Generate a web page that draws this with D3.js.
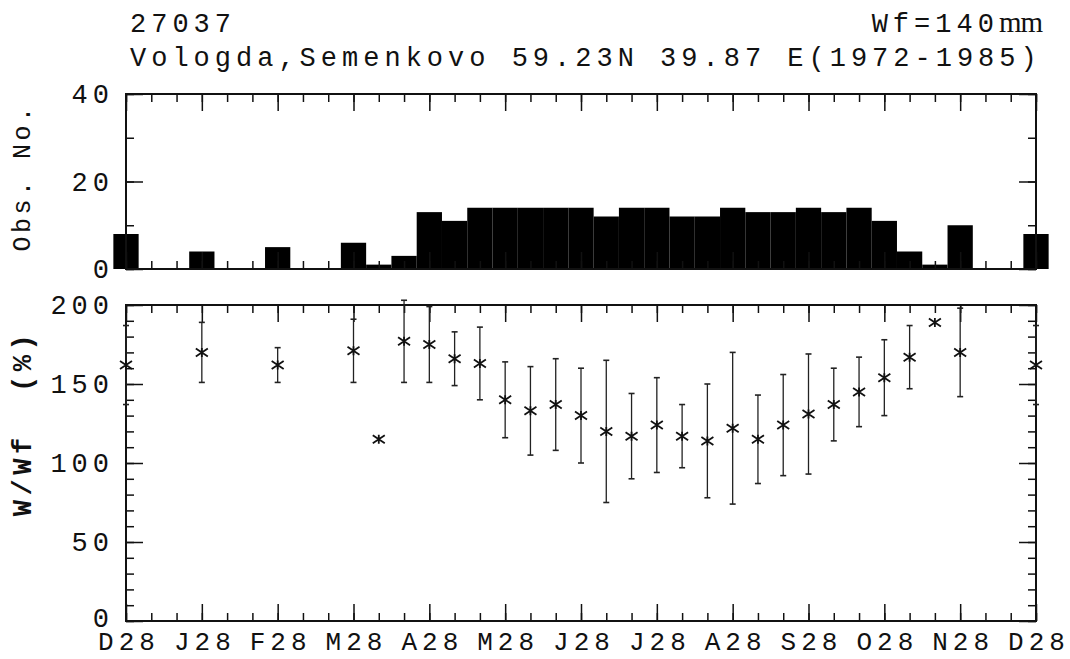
<!DOCTYPE html>
<html>
<head>
<meta charset="utf-8">
<script src="https://cdn.jsdelivr.net/npm/d3@7"></script>
<style>
  html, body { margin: 0; padding: 0; background: #fff; }
  svg { display: block; }
  text { font-family: "Liberation Mono", "DejaVu Sans Mono", monospace; fill: #111; }
</style>
</head>
<body>
<svg id="chart" width="1070" height="659"></svg>
<script>
// Ten-day periods (dekads) from 28 Dec to 28 Dec of the following year
const monthLabels = ["D28", "J28", "F28", "M28", "A28", "M28", "J28", "J28", "A28", "S28", "O28", "N28", "D28"];

// Number of observations in each dekad
const obsCount = [8, 0, 0, 4, 0, 0, 5, 0, 0, 6, 1, 3, 13, 11, 14, 14, 14, 14, 14, 12,
                  14, 14, 12, 12, 14, 13, 13, 14, 13, 14, 11, 4, 1, 10, 0, 0, 8];

// Mean soil water relative to field capacity W/Wf (%), null where no data
const meanRatio = [162, null, null, 170, null, null, 162, null, null, 171, 115, 177, 175, 166, 163, 140, 133, 137, 130, 120,
                   117, 124, 117, 114, 122, 115, 124, 131, 137, 145, 154, 167, 189, 170, null, null, 162];

// Standard deviation of W/Wf (%), 0 where only one observation
const sdRatio = [25, null, null, 19, null, null, 11, null, null, 20, 0, 26, 24, 17, 23, 24, 28, 29, 30, 45,
                 27, 30, 20, 36, 48, 28, 32, 38, 23, 22, 24, 20, 0, 28, null, null, 25];

const obsTicksMajor = [0, 20, 40];
const ratioTicksMajor = [0, 50, 100, 150, 200];

const svg = d3.select("#chart");
svg.append("rect").attr("width", 1070).attr("height", 659).attr("fill", "#fff");

const left = 126, right = 1036;
const topPanel = { top: 94, bottom: 269 };
const botPanel = { top: 305, bottom: 621 };

const x = d3.scaleLinear().domain([0, 36]).range([left, right]);
const yObs = d3.scaleLinear().domain([0, 40]).range([topPanel.bottom, topPanel.top]);
const yRatio = d3.scaleLinear().domain([0, 200]).range([botPanel.bottom, botPanel.top]);

const dekads = d3.range(0, 37);
const months = d3.range(0, 37, 3);
const fontSize = 27, spacing = 5;

function styleAxis(g, size = fontSize) {
  g.select(".domain").remove();
  g.selectAll(".tick line").attr("stroke", "#111").attr("stroke-width", 1.5);
  g.selectAll("text")
    .style("font-family", '"Liberation Mono", monospace')
    .style("font-size", size + "px")
    .style("letter-spacing", spacing + "px")
    .attr("fill", "#111");
}

// Inward ticks on all four edges of a panel
function drawFrame(panel, yScale, minorY, majorY) {
  const g = svg.append("g");
  // top edge
  g.append("g").attr("transform", `translate(0,${panel.top})`)
    .call(d3.axisBottom(x).tickValues(dekads).tickSize(8).tickFormat(""))
    .call(styleAxis);
  g.append("g").attr("transform", `translate(0,${panel.top})`)
    .call(d3.axisBottom(x).tickValues(months).tickSize(17).tickFormat(""))
    .call(styleAxis);
  // bottom edge
  g.append("g").attr("transform", `translate(0,${panel.bottom})`)
    .call(d3.axisTop(x).tickValues(dekads).tickSize(8).tickFormat(""))
    .call(styleAxis);
  g.append("g").attr("transform", `translate(0,${panel.bottom})`)
    .call(d3.axisTop(x).tickValues(months).tickSize(17).tickFormat(""))
    .call(styleAxis);
  // left edge
  g.append("g").attr("transform", `translate(${left},0)`)
    .call(d3.axisRight(yScale).tickValues(minorY).tickSize(8).tickFormat(""))
    .call(styleAxis);
  g.append("g").attr("transform", `translate(${left},0)`)
    .call(d3.axisRight(yScale).tickValues(majorY).tickSize(17).tickFormat(""))
    .call(styleAxis);
  // right edge
  g.append("g").attr("transform", `translate(${right},0)`)
    .call(d3.axisLeft(yScale).tickValues(minorY).tickSize(8).tickFormat(""))
    .call(styleAxis);
  g.append("g").attr("transform", `translate(${right},0)`)
    .call(d3.axisLeft(yScale).tickValues(majorY).tickSize(17).tickFormat(""))
    .call(styleAxis);
  // value labels on the left
  const labels = g.append("g").attr("transform", `translate(${left},0)`)
    .call(d3.axisLeft(yScale).tickValues(majorY).tickSize(0).tickPadding(12))
    .call(styleAxis);
  return labels;
}

// ---- Observation counts (top panel) ----
const barW = x(1) - x(0);
svg.append("g").selectAll("rect")
  .data(dekads.filter(i => obsCount[i] > 0))
  .join("rect")
  .attr("x", i => x(i) - barW / 2)
  .attr("width", barW)
  .attr("y", i => yObs(obsCount[i]))
  .attr("height", i => yObs(0) - yObs(obsCount[i]))
  .attr("fill", "#000");

drawFrame(topPanel, yObs, d3.range(0, 41, 10), obsTicksMajor);
svg.append("rect")
  .attr("x", left).attr("y", topPanel.top)
  .attr("width", right - left).attr("height", topPanel.bottom - topPanel.top)
  .attr("fill", "none").attr("stroke", "#111").attr("stroke-width", 2);

// ---- W/Wf (bottom panel) ----
const ratioLabels = drawFrame(botPanel, yRatio, d3.range(0, 201, 10), ratioTicksMajor);
// the zero label sits a little above the corner, clear of the month labels
ratioLabels.selectAll(".tick").filter(d => d === 0).select("text").attr("dy", "0.2em");
svg.append("rect")
  .attr("x", left).attr("y", botPanel.top)
  .attr("width", right - left).attr("height", botPanel.bottom - botPanel.top)
  .attr("fill", "none").attr("stroke", "#111").attr("stroke-width", 2);

// month labels under the bottom panel
svg.append("g").attr("transform", `translate(0,${botPanel.bottom})`)
  .call(d3.axisBottom(x).tickValues(months).tickSize(0).tickPadding(11)
    .tickFormat((d, i) => monthLabels[i]))
  .call(g => styleAxis(g, 26))
  .selectAll("text").attr("dx", spacing / 2);

const pts = dekads.filter(i => meanRatio[i] !== null);

// error bars (mean ± standard deviation)
const eb = svg.append("g").attr("stroke", "#222").attr("stroke-width", 1.3).attr("fill", "none");
pts.filter(i => sdRatio[i] > 0).forEach(i => {
  const cx = x(i);
  const y1 = yRatio(meanRatio[i] + sdRatio[i]);
  const y0 = yRatio(meanRatio[i] - sdRatio[i]);
  eb.append("line").attr("x1", cx).attr("x2", cx).attr("y1", y1).attr("y2", y0);
  eb.append("line").attr("x1", cx - 3).attr("x2", cx + 3).attr("y1", y1).attr("y2", y1).attr("stroke-width", 1.6);
  eb.append("line").attr("x1", cx - 3).attr("x2", cx + 3).attr("y1", y0).attr("y2", y0).attr("stroke-width", 1.6);
});

// asterisk markers at the means
svg.append("g").selectAll("path")
  .data(pts)
  .join("path")
  .attr("transform", i => `translate(${x(i)},${yRatio(meanRatio[i])})`)
  .attr("d", "M-6,-4L6,4M-6,4L6,-4M0,-4.5L0,4.5")
  .attr("stroke", "#111").attr("stroke-width", 1.8).attr("fill", "none");

// ---- axis titles ----
svg.append("text")
  .attr("transform", `translate(30,${(topPanel.top + topPanel.bottom) / 2 - 4}) rotate(-90)`)
  .attr("text-anchor", "middle")
  .style("font-size", "25px").style("letter-spacing", "3.5px")
  .text("Obs. No.");

svg.append("text")
  .attr("transform", `translate(31,${(botPanel.top + botPanel.bottom) / 2 - 40}) rotate(-90)`)
  .attr("text-anchor", "middle")
  .style("font-size", "27px").style("letter-spacing", "4.5px")
  .style("font-weight", "bold").style("white-space", "pre")
  .text("W/Wf  (%)");

// ---- header ----
svg.append("text").attr("x", 130).attr("y", 32)
  .style("font-size", fontSize + "px").style("letter-spacing", spacing + "px")
  .text("27037");

svg.append("text").attr("x", 130).attr("y", 66)
  .style("font-size", fontSize + "px").style("letter-spacing", spacing + "px")
  .text("Vologda,Semenkovo 59.23N 39.87 E(1972-1985)");

const wf = svg.append("text").attr("x", 1042).attr("y", 32).attr("text-anchor", "end")
  .style("font-size", fontSize + "px").style("letter-spacing", spacing + "px");
wf.append("tspan").text("Wf=140");
wf.append("tspan").style("font-family", '"Liberation Serif", serif').style("font-size", "29px")
  .style("letter-spacing", "-1px").text("mm");
</script>
</body>
</html>
